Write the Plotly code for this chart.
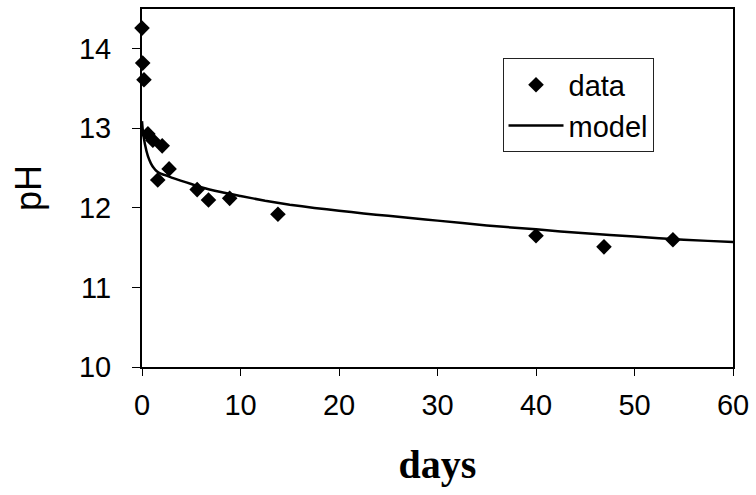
import plotly.graph_objects as go

# measured data
data_days = [0.0, 0.07, 0.2, 0.6, 1.1, 1.6, 2.05, 2.75, 5.6, 6.75, 8.9, 13.8, 40.0, 46.9, 53.9]
data_ph = [14.26, 13.82, 13.61, 12.93, 12.85, 12.35, 12.78, 12.49, 12.23, 12.10, 12.12, 11.92, 11.65, 11.51, 11.60]

# model curve
model_days = [0.0, 0.1, 0.3, 0.6, 0.9, 1.2, 1.5, 1.9, 2.4, 3.0, 4.0, 5.0, 6.0, 8.0, 10.0, 12.5, 15.0,
              17.5, 20.0, 22.5, 25.0, 27.5, 30.0, 35.0, 40.0, 45.0, 50.0, 55.0, 60.0, 61.0]
model_ph = [13.09, 12.95, 12.80, 12.65, 12.56, 12.50, 12.46, 12.43, 12.41, 12.38, 12.34, 12.30, 12.26, 12.20, 12.15,
            12.09, 12.04, 12.00, 11.965, 11.93, 11.90, 11.87, 11.84, 11.78, 11.73, 11.68, 11.64, 11.60, 11.57, 11.56]

x_ticks = [0, 10, 20, 30, 40, 50, 60]
y_ticks = [10, 11, 12, 13, 14]

SANS = "Arial, Liberation Sans, sans-serif"
SERIF = "Times New Roman, Liberation Serif, serif"

fig = go.Figure()
fig.add_trace(go.Scatter(
    x=data_days, y=data_ph, mode="markers", name="data",
    marker=dict(symbol="diamond", size=12, color="black", line=dict(width=0)),
    cliponaxis=False,
))
fig.add_trace(go.Scatter(
    x=model_days, y=model_ph, mode="lines", name="model",
    line=dict(color="black", width=2.5, shape="spline", smoothing=0.5),
))

fig.update_layout(
    width=756, height=495,
    margin=dict(l=142, r=22, t=7, b=128),
    paper_bgcolor="white", plot_bgcolor="white",
    showlegend=True,
    legend=dict(
        x=0.61, y=0.862, xanchor="left", yanchor="top",
        bgcolor="white", bordercolor="#222", borderwidth=1,
        font=dict(family=SANS, size=29, color="black"),
        itemwidth=55, tracegroupgap=0,
    ),
)
fig.update_xaxes(
    range=[0, 60], tickvals=x_ticks, ticktext=[str(v) for v in x_ticks],
    showline=True, linecolor="black", linewidth=2, mirror=True,
    ticks="outside", ticklen=7, tickwidth=1, tickcolor="black",
    showgrid=False, zeroline=False,
    tickfont=dict(family=SANS, size=29, color="black"),
    ticklabelstandoff=4,
    title=dict(text="<b>days</b>", font=dict(family=SERIF, size=40, color="black"), standoff=30),
)
fig.update_yaxes(
    range=[10, 14.5], tickvals=y_ticks, ticktext=[str(v) for v in y_ticks],
    showline=True, linecolor="black", linewidth=2, mirror=True,
    ticks="outside", ticklen=8, tickwidth=1, tickcolor="black",
    showgrid=False, zeroline=False,
    tickfont=dict(family=SANS, size=29, color="black"),
    ticklabelstandoff=15,
    title=dict(text="pH", font=dict(family=SANS, size=36, color="black"), standoff=26),
)

fig.write_html("out.html")
